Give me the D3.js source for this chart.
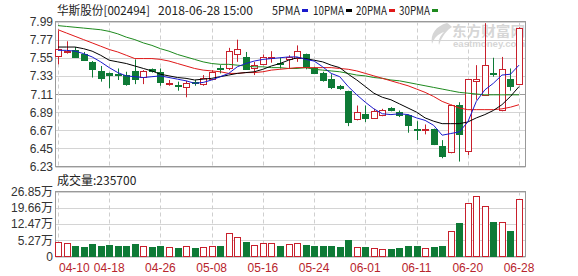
<!DOCTYPE html>
<html>
<head>
<meta charset="utf-8">
<script src="https://cdn.jsdelivr.net/npm/d3@7"></script>
<style>
body{margin:0;background:#fff}
svg{display:block}
text{font-family:Arial,"Liberation Sans","Noto Sans CJK SC",sans-serif}
</style>
</head>
<body>
<svg id="chart" width="578" height="276"></svg>
<script>
// trading days shown (one candle each)
var dates = ["04-10","04-11","04-12","04-13","04-16","04-17","04-18","04-19","04-20","04-23","04-24","04-25","04-26","04-27",
  "05-02","05-03","05-04","05-07","05-08","05-09","05-10","05-11","05-14","05-15","05-16","05-17","05-18","05-21","05-22","05-23","05-24","05-25","05-28","05-29","05-30","05-31",
  "06-01","06-04","06-05","06-06","06-07","06-08","06-11","06-12","06-13","06-14","06-15","06-19","06-20","06-21","06-22","06-25","06-26","06-27","06-28"];
var open  = [7.58,7.62,7.65,7.60,7.50,7.39,7.36,7.35,7.34,7.39,7.32,7.41,7.38,7.23,7.22,7.19,7.25,7.23,7.29,7.42,7.42,7.60,7.56,7.42,7.47,7.55,7.49,7.53,7.54,7.59,
  7.43,7.36,7.29,7.21,7.15,6.81,6.87,6.82,6.85,6.94,6.89,6.85,6.69,6.67,6.68,6.48,6.41,6.98,6.41,7.26,7.10,7.36,6.91,7.29,7.23];
var high  = [7.88,7.75,7.68,7.62,7.51,7.45,7.37,7.42,7.38,7.53,7.40,7.42,7.42,7.28,7.26,7.27,7.28,7.34,7.40,7.46,7.67,7.77,7.62,7.50,7.59,7.63,7.55,7.58,7.70,7.60,
  7.44,7.38,7.35,7.22,7.15,6.97,6.97,6.93,6.93,6.95,6.91,6.86,6.78,6.74,6.69,6.55,6.98,7.01,7.29,7.46,7.97,7.55,7.56,7.42,7.92];
var low   = [7.47,7.60,7.55,7.52,7.31,7.26,7.18,7.28,7.21,7.23,7.23,7.37,7.21,7.21,7.15,7.07,7.21,7.21,7.28,7.36,7.40,7.50,7.41,7.34,7.46,7.49,7.42,7.42,7.50,7.41,
  7.36,7.26,7.17,7.16,6.72,6.79,6.77,6.81,6.84,6.90,6.83,6.64,6.55,6.62,6.49,6.33,6.39,6.29,6.37,7.04,7.10,7.32,6.90,7.15,7.22];
var close = [7.66,7.63,7.57,7.53,7.41,7.30,7.33,7.34,7.23,7.29,7.39,7.39,7.26,7.24,7.21,7.24,7.24,7.30,7.38,7.41,7.63,7.66,7.42,7.46,7.56,7.56,7.48,7.56,7.63,7.43,
  7.37,7.28,7.19,7.18,6.77,6.89,6.82,6.90,6.91,6.91,6.85,6.73,6.68,6.68,6.50,6.36,6.98,6.63,7.29,7.29,7.46,7.35,7.41,7.20,7.91];
// volume in 万 shares
var volume = [4.58,3.87,2.67,2.09,3.56,2.67,3.11,2.67,2.67,3.56,2.67,2.09,2.67,2.09,1.64,2.67,1.64,2.09,2.67,2.67,8.32,6.54,4.58,3.11,4.13,3.87,2.67,3.42,3.87,2.98,
  2.67,2.67,2.67,2.09,5.34,2.50,2.09,1.64,1.20,1.50,2.00,2.67,2.67,1.64,2.09,2.67,9.35,13.05,21.70,24.94,20.50,13.49,13.20,9.48,23.57];
// moving averages
var ma5  = [7.64,7.64,7.63,7.60,7.56,7.50,7.43,7.37,7.33,7.32,7.31,7.32,7.33,7.31,7.29,7.27,7.24,7.25,7.28,7.32,7.36,7.44,7.48,7.51,7.53,7.54,7.55,7.56,7.56,7.53,
  7.51,7.44,7.36,7.32,7.20,7.10,7.01,6.93,6.87,6.86,6.87,6.86,6.82,6.79,6.73,6.61,6.63,6.65,6.77,7.02,7.16,7.24,7.34,7.35,7.46];
var ma10 = [7.68,7.68,7.68,7.66,7.63,7.58,7.52,7.50,7.48,7.45,7.42,7.39,7.35,7.33,7.31,7.30,7.28,7.29,7.30,7.32,7.34,7.36,7.37,7.38,7.41,7.45,7.48,7.52,7.55,7.54,
  7.52,7.50,7.46,7.43,7.35,7.28,7.20,7.12,7.07,7.04,6.99,6.94,6.89,6.82,6.78,6.75,6.75,6.75,6.77,6.82,6.86,6.91,6.98,7.08,7.20];
var ma20 = [7.89,7.85,7.81,7.77,7.73,7.69,7.65,7.62,7.58,7.54,7.54,7.54,7.53,7.51,7.48,7.45,7.42,7.40,7.39,7.38,7.36,7.36,7.37,7.37,7.38,7.40,7.41,7.42,7.43,7.43,
  7.43,7.43,7.43,7.42,7.41,7.39,7.36,7.33,7.30,7.27,7.24,7.21,7.17,7.13,7.08,7.02,6.98,6.94,6.92,6.92,6.92,6.92,6.93,6.95,6.98];
var ma30 = [7.94,7.93,7.92,7.91,7.90,7.89,7.87,7.84,7.80,7.77,7.73,7.70,7.66,7.63,7.59,7.56,7.53,7.50,7.48,7.47,7.47,7.46,7.45,7.44,7.44,7.43,7.43,7.42,7.42,7.43,
  7.41,7.40,7.39,7.38,7.36,7.34,7.33,7.31,7.30,7.28,7.27,7.25,7.23,7.21,7.19,7.17,7.15,7.13,7.12,7.11,7.10,7.10,7.10,7.10,7.10];

var priceTicks = [7.99,7.77,7.55,7.33,7.11,6.89,6.67,6.45,6.23];
var volTicks = [26.85,19.66,12.47,5.27,-1.92];
var volTickLabels = ["26.85万","19.66万","12.47万","5.27万","0"];
var dateTicks = ["04-10","04-18","04-26","05-08","05-16","05-24","06-01","06-11","06-20","06-28"];

var RED = "#c8202c", GREEN = "#0e7a36";
var left = 55.5, right = 525.5;
var svg = d3.select("#chart");

var x = d3.scalePoint().domain(dates).range([58, 519]);
var y = d3.scaleLinear().domain([6.23, 7.99]).range([166.5, 21.5]);
var yv = d3.scaleLinear().domain([-1.92, 26.85]).range([256.5, 191.5]);

var rows = dates.map(function(d, i){
  return {date: d, o: open[i], h: high[i], l: low[i], c: close[i], v: volume[i]};
});

// watermark
var wm = svg.append("g").attr("fill", "#d6d6d6");
wm.append("path")
  .attr("d", "M447,23 C436,26 430,34 432,44 C434,38 438,34 444,32 C440,36 438,40 439,45 C442,36 447,30 452,27 C450,25 449,24 447,23 Z");
wm.append("text").attr("x", 452).attr("y", 35.5).attr("font-size", 14).attr("font-weight", "bold")
  .attr("font-family", "'Noto Sans CJK SC',sans-serif").attr("textLength", 73).attr("lengthAdjust", "spacingAndGlyphs")
  .text("东方财富网");
wm.append("text").attr("x", 453).attr("y", 46.5).attr("font-size", 8.5).attr("font-weight", "bold")
  .attr("textLength", 72).attr("lengthAdjust", "spacingAndGlyphs").text("eastmoney.com");

// price grid
var g = svg.append("g");
g.selectAll(".hg").data(priceTicks).enter().append("line")
  .attr("x1", left).attr("x2", right)
  .attr("y1", function(d){ return Math.round(y(d)) + 0.5; })
  .attr("y2", function(d){ return Math.round(y(d)) + 0.5; })
  .attr("stroke", function(d){ return d === 7.11 ? "#9a9a9a" : "#d4d4d4"; });
g.selectAll(".vg").data(dateTicks).enter().append("line")
  .attr("x1", function(d){ return Math.round(x(d)) + 0.5; })
  .attr("x2", function(d){ return Math.round(x(d)) + 0.5; })
  .attr("y1", 21.5).attr("y2", 166.5)
  .attr("stroke", "#cfcfcf").attr("stroke-dasharray", "4,3");
g.append("rect").attr("x", left).attr("y", 21.5).attr("width", right - left).attr("height", 145)
  .attr("fill", "none").attr("stroke", "#999");
g.selectAll(".pl").data(priceTicks).enter().append("text")
  .attr("x", 53).attr("y", function(d){ return y(d) + 4.5; })
  .attr("text-anchor", "end").attr("font-size", 12).attr("fill", "#333")
  .text(function(d){ return d.toFixed(2); });

// volume grid
var gv = svg.append("g");
gv.selectAll(".hg").data(volTicks).enter().append("line")
  .attr("x1", left).attr("x2", right)
  .attr("y1", function(d){ return Math.round(yv(d)) + 0.5; })
  .attr("y2", function(d){ return Math.round(yv(d)) + 0.5; })
  .attr("stroke", "#d4d4d4");
gv.selectAll(".vg").data(dateTicks).enter().append("line")
  .attr("x1", function(d){ return Math.round(x(d)) + 0.5; })
  .attr("x2", function(d){ return Math.round(x(d)) + 0.5; })
  .attr("y1", 191.5).attr("y2", 256.5)
  .attr("stroke", "#cfcfcf").attr("stroke-dasharray", "4,3");
gv.append("rect").attr("x", left).attr("y", 191.5).attr("width", right - left).attr("height", 65)
  .attr("fill", "none").attr("stroke", "#999");
gv.selectAll(".vl").data(volTicks).enter().append("text")
  .attr("x", 53).attr("y", function(d){ return yv(d) + 4.5; })
  .attr("text-anchor", "end").attr("font-size", 12).attr("fill", "#333")
  .text(function(d, i){ return volTickLabels[i]; });

// date labels
svg.selectAll(".dl").data(dateTicks).enter().append("text")
  .attr("x", function(d, i){ return i === 0 ? x(d) + 1 : x(d); })
  .attr("y", 271.5)
  .attr("text-anchor", function(d, i){ return i === 0 ? "start" : "middle"; })
  .attr("font-size", 12).attr("fill", "#b8242c")
  .text(function(d){ return d; });

// candles
var up = function(d){ return d.c >= d.o; };
var cg = svg.append("g");
var cx = function(d){ return Math.round(x(d.date)) + 0.5; };
cg.selectAll(".wick").data(rows).enter().append("line")
  .attr("x1", cx).attr("x2", cx)
  .attr("y1", function(d){ return y(d.h); })
  .attr("y2", function(d){ return y(d.l); })
  .attr("stroke", function(d){ return up(d) ? RED : GREEN; });
cg.selectAll(".body").data(rows).enter().append("rect")
  .attr("x", function(d){ return cx(d) - 3; })
  .attr("width", 6)
  .attr("y", function(d){ return Math.round(y(Math.max(d.o, d.c))) + 0.5; })
  .attr("height", function(d){ return Math.max(1, Math.round(Math.abs(y(d.o) - y(d.c)))); })
  .attr("fill", function(d){ return up(d) ? "#fff" : GREEN; })
  .attr("stroke", function(d){ return up(d) ? RED : GREEN; });

// volume bars
svg.append("g").selectAll("rect").data(rows).enter().append("rect")
  .attr("x", function(d){ return cx(d) - 3; })
  .attr("width", 6)
  .attr("y", function(d){ return Math.round(yv(d.v)) + 0.5; })
  .attr("height", function(d){ return 256.5 - (Math.round(yv(d.v)) + 0.5); })
  .attr("fill", function(d){ return up(d) ? "#fff" : GREEN; })
  .attr("stroke", function(d){ return up(d) ? RED : GREEN; });

// moving average lines
var maSeries = [
  {name: "5PMA", values: ma5, color: "#1a1acc"},
  {name: "10PMA", values: ma10, color: "#000"},
  {name: "20PMA", values: ma20, color: "#e01818"},
  {name: "30PMA", values: ma30, color: "#1e8a1e"}
];
var line = d3.line()
  .x(function(d, i){ return x(dates[i]); })
  .y(function(d){ return y(d); });
svg.append("g").selectAll("path").data(maSeries.slice().reverse()).enter().append("path")
  .attr("d", function(s){ return line(s.values); })
  .attr("fill", "none").attr("stroke", function(s){ return s.color; }).attr("stroke-width", 1);

// title and legend
var title = svg.append("g").attr("font-family", "'Noto Sans CJK SC',sans-serif").attr("font-size", 12).attr("fill", "#222");
title.append("text").attr("x", 57).attr("y", 15).attr("textLength", 93).attr("lengthAdjust", "spacingAndGlyphs")
  .style("font-family", "'Noto Sans CJK SC',sans-serif").text("华斯股份[002494]");
title.append("text").attr("x", 158).attr("y", 15).attr("textLength", 95).attr("lengthAdjust", "spacingAndGlyphs")
  .style("font-family", "'Noto Sans CJK SC',sans-serif").text("2018-06-28 15:00");
var legendX = [272, 313, 356, 399];
var legendW = [28, 31, 31, 31];
maSeries.forEach(function(s, i){
  title.append("text").attr("x", legendX[i]).attr("y", 15).attr("textLength", legendW[i]).attr("lengthAdjust", "spacingAndGlyphs")
    .style("font-family", "'Noto Sans CJK SC',sans-serif").text(s.name);
  title.append("rect").attr("x", legendX[i] + legendW[i] + 2).attr("y", 9).attr("width", 6).attr("height", 3).attr("fill", s.color);
});

svg.append("text").attr("x", 57).attr("y", 185).attr("font-size", 12).attr("fill", "#222")
  .style("font-family", "'Noto Sans CJK SC',sans-serif")
  .text("成交量:" + d3.format("d")(volume[volume.length - 1] * 10000));
</script>
</body>
</html>
